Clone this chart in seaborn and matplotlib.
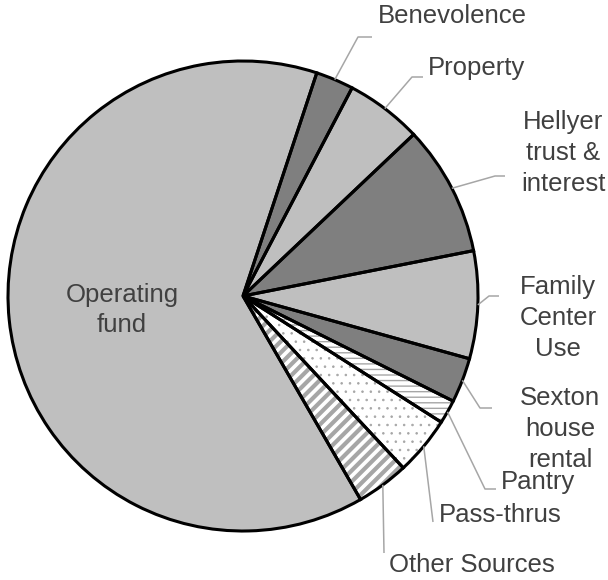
import matplotlib
matplotlib.use("Agg")
import numpy as np
import matplotlib.pyplot as plt
import seaborn as sns

# Data (share of income)
labels = ["Benevolence", "Property", "Hellyer\ntrust &\ninterest", "Family\nCenter\nUse",
          "Sexton\nhouse\nrental", "Pantry", "Pass-thrus", "Other Sources", "Operating\nfund"]
shares = [2.6, 5.25, 8.97, 7.39, 3.08, 1.64, 4.03, 3.61, 63.4]

# Styles
fills = ["#7f7f7f", "#bfbfbf", "#7f7f7f", "#bfbfbf", "#7f7f7f", "white", "white", "white", "#bfbfbf"]
hatches = [None, None, None, None, None, "---", "..", "///", None]
hatch_widths = [1, 1, 1, 1, 1, 1.0, 0.6, 3.0, 1]

# Layout in pixels (top-left origin): label anchor, vertical alignment, leader elbow points
label_pos = [(452, 23, "baseline"), (476, 75, "baseline"), (563, 153, "center"),
             (558, 318, "center"), (560, 429, "center"), (538, 489, "baseline"),
             (500, 522, "baseline"), (472, 572, "baseline"), (122, 310, "center")]
leader_pts = [[(358, 37), (372, 37)], [(412, 77), (423, 77)], [(495, 176), (505, 176)],
              [(489, 296), (499, 296)], [(480, 408), (492, 408)], [(485, 489), (496, 489)],
              [(433, 522)], [(384, 553)], None]

sns.set_theme(style="white")
plt.rcParams["font.family"] = ["Liberation Sans", "DejaVu Sans"]
plt.rcParams["hatch.color"] = "#a6a6a6"

W, H = 608, 580
CX, CY, R = 243, 296, 235


def to_data(x, y):
    return (x - CX) / R, (CY - y) / R


fig = plt.figure(figsize=(W / 100, H / 100), dpi=100)
ax = fig.add_axes([0, 0, 1, 1])

start = 90 - 18.3

# fills and hatches
wedges, _ = ax.pie(shares, colors=fills, startangle=start, counterclock=False,
                   wedgeprops=dict(linewidth=0, edgecolor="#a6a6a6"))
for w, h, hw in zip(wedges, hatches, hatch_widths):
    if h:
        w.set_hatch(h)
        if hasattr(w, "set_hatch_linewidth"):
            w.set_hatch_linewidth(hw)

# black outlines on top
ax.pie(shares, colors=["none"] * len(shares), startangle=start, counterclock=False,
       wedgeprops=dict(linewidth=2.2, edgecolor="black", fill=False))

# labels and leader lines
for w, lab, (tx, ty, va), pts in zip(wedges, labels, label_pos, leader_pts):
    if pts:
        mid = np.deg2rad((w.theta1 + w.theta2) / 2)
        xs = [np.cos(mid)] + [to_data(*p)[0] for p in pts]
        ys = [np.sin(mid)] + [to_data(*p)[1] for p in pts]
        ax.plot(xs, ys, color="#a6a6a6", lw=1.1, solid_capstyle="butt", zorder=1)
    x, y = to_data(tx, ty)
    ax.text(x, y, lab, ha="center", va=va, multialignment="center",
            fontsize=18.5, color="#404040", linespacing=1.35)

ax.set_xlim(-CX / R, (W - CX) / R)
ax.set_ylim(-(H - CY) / R, CY / R)
ax.set_aspect("auto")
ax.axis("off")

fig.savefig("out.png", dpi=100)
